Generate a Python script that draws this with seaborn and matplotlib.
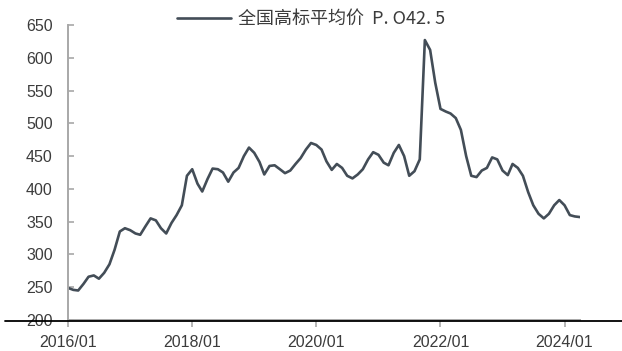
import numpy as np
import pandas as pd
import matplotlib
matplotlib.use("Agg")
import matplotlib.pyplot as plt
import matplotlib.dates as mdates
from matplotlib.lines import Line2D
import seaborn as sns

# Monthly national average price of P.O42.5 cement, 2016/01 - 2024/04
start_month = "2016-01-01"
price = [
    249, 246, 245, 255, 266, 268, 263, 272, 285, 307,
    335, 340, 337, 332, 330, 343, 355, 352, 340, 332,
    348, 360, 375, 420, 430, 408, 396, 415, 431, 430,
    425, 411, 425, 432, 450, 463, 455, 441, 422, 435,
    436, 430, 424, 428, 438, 447, 460, 470, 467, 460,
    442, 429, 438, 432, 420, 416, 422, 430, 445, 456,
    452, 440, 436, 455, 467, 450, 420, 427, 445, 627,
    612, 562, 522, 518, 515, 508, 490, 450, 420, 418,
    428, 432, 448, 445, 428, 421, 438, 432, 420, 395,
    375, 362, 355, 362, 375, 383, 375, 360, 358, 357,
]
series_name = "全国高标平均价  P. O42. 5"
y_ticks = [200, 250, 300, 350, 400, 450, 500, 550, 600, 650]

dates = pd.date_range(start_month, periods=len(price), freq="MS")
df = pd.DataFrame({"date": dates, "price": price, "series": series_name})

sns.set_style("white")
plt.rcParams["font.family"] = ["Liberation Sans", "Noto Sans CJK SC", "DejaVu Sans"]

fig = plt.figure(figsize=(6.22, 3.51), dpi=100)
ax = fig.add_axes([0.1093, 0.0883, 0.8232, 0.8405])

line_color = "#434d57"
sns.lineplot(data=df, x="date", y="price", hue="series",
             palette=[line_color], linewidth=1.9, ax=ax, legend=False)

ax.set_ylim(200, 650)
ax.set_yticks(y_ticks)
ax.set_xlim(dates[0], dates[-1])
ax.xaxis.set_major_locator(mdates.YearLocator(2, month=1, day=1))
ax.xaxis.set_major_formatter(mdates.DateFormatter("%Y/%m"))
ax.set_xlabel("")
ax.set_ylabel("")

spine_gray = "#a8a8a8"
for side in ("top", "right"):
    ax.spines[side].set_visible(False)
for side in ("left", "bottom"):
    ax.spines[side].set_color(spine_gray)
    ax.spines[side].set_linewidth(1.4)

ax.tick_params(axis="y", direction="in", length=4, width=1.2, color=spine_gray,
               labelsize=11.5, labelcolor="#3c3c3c", pad=11, left=True)
ax.tick_params(axis="x", direction="out", length=5, width=1.2, color=spine_gray,
               labelsize=11.5, labelcolor="#3c3c3c", pad=6, bottom=True)

# legend entry at the top
handle = Line2D([0], [0], color=line_color, linewidth=1.9)
leg = fig.legend([handle], [series_name], loc="center left",
                 bbox_to_anchor=(0.284, 0.945), frameon=False,
                 handlelength=3.0, handletextpad=0.4, borderaxespad=0,
                 borderpad=0,
                 prop={"family": ["Noto Sans CJK SC", "DejaVu Sans"], "size": 13})
for t in leg.get_texts():
    t.set_color("#3c3c3c")

# horizontal rule across the base of the chart
fig.add_artist(Line2D([5 / 622, 1.0], [1 - 320.5 / 351, 1 - 320.5 / 351],
                      transform=fig.transFigure, color="black", linewidth=1.3))

fig.savefig("out.png", dpi=100)
